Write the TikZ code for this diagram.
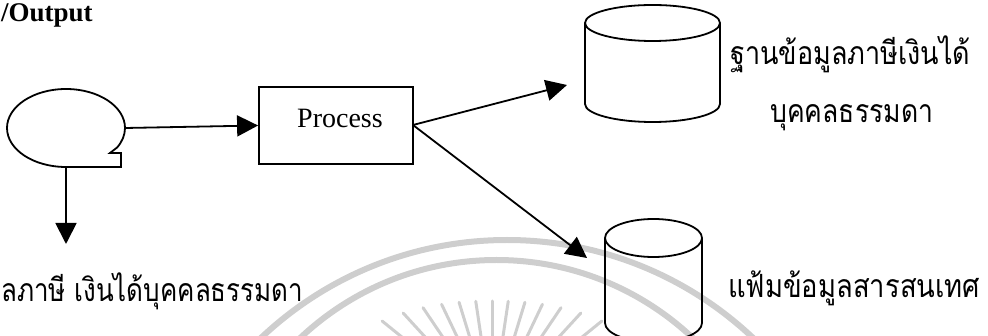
\documentclass[tikz,border=0pt]{standalone}
\usepackage{fontspec}
\setmainfont{Liberation Serif}
\newfontfamily\thai[Script=Thai]{Loma}
\usetikzlibrary{arrows.meta,calc}

\definecolor{seal}{RGB}{206,206,206}

% set a line of text to a given width, keeping its natural height
\newcommand\fitwidth[2]{\resizebox{#1}{\height}{#2}}

\tikzset{
  outline/.style={draw=black, line width=1.8pt, line join=miter},
  flow/.style={draw=black, line width=1.8pt, -{Triangle[length=21pt,width=21pt]}},
  procbox/.style={outline, rectangle, minimum width=154pt, minimum height=77pt, inner sep=0pt},
  slot/.style={draw=none, inner sep=0pt},
  thaitext/.style={font=\thai\fontsize{32}{38}\selectfont, inner sep=0pt},
  sealband/.style={draw=seal, line width=6pt},
  sealray/.style={draw=seal, line width=3pt, line cap=round},
}

\begin{document}
\begin{tikzpicture}[x=1pt, y=-1pt]
\useasboundingbox (0,0) rectangle (988,336);
\clip (0,0) rectangle (988,336);

% faint seal in the background: two rings and a sunburst
\draw[sealband] (507,598) circle[radius=358];
\draw[sealband] (496.5,546) circle[radius=286];
\foreach \k in {-6,...,6} {
  \pgfmathsetmacro{\ang}{90+8.5*\k}
  \pgfmathsetmacro{\rin}{109+0.9*\k*\k}
  \draw[sealray] ($(492,410)+({\rin*cos(\ang)},{-\rin*sin(\ang)})$)
               -- ($(492,410)+({40*cos(\ang)},{-40*sin(\ang)})$);
}

% heading
\node[anchor=base west, inner sep=0pt, font=\fontsize{27}{32}\selectfont\bfseries] (head) at (1,22) {/Output};

% tape symbol (sequential document)
\node[slot, minimum width=118pt, minimum height=78pt] (tape) at (66,128) {};
\draw[outline] (66,167) arc[start angle=90, end angle=390, x radius=59, y radius=39]
  -- (110,153) -- (121,153) -- (121,167) -- cycle;

% process box
\node[procbox] (proc) at (336,125.5) {};
\node[anchor=base, inner sep=0pt, font=\fontsize{28}{32}\selectfont] (proclabel) at (340,128) {Process};

% database cylinders
\node[slot, minimum width=135pt, minimum height=117pt] (db1) at (652.5,63.5) {};
\draw[outline] (585,23) -- (585,104) arc[start angle=180, end angle=0, x radius=67.5, y radius=18] -- (720,23);
\draw[outline] (652.5,23) ellipse[x radius=67.5, y radius=18];

\node[slot, minimum width=97pt, minimum height=123pt] (db2) at (653.5,280.5) {};
\draw[outline] (605,238) -- (605,323) arc[start angle=180, end angle=0, x radius=48.5, y radius=19] -- (702,238);
\draw[outline] (653.5,238) ellipse[x radius=48.5, y radius=19];

% labels
\node[thaitext, anchor=base west] (l1a) at (730,65) {\fitwidth{240pt}{ฐานข้อมูลภาษีเงินได้}};
\node[thaitext, anchor=base west] (l1b) at (770,123) {\fitwidth{163pt}{บุคคลธรรมดา}};
\node[thaitext, anchor=base west] (l2) at (728,298) {\fitwidth{252pt}{แฟ้มข้อมูลสารสนเทศ}};
\node[thaitext, anchor=base west] (l3) at (1,302) {\fitwidth{302pt}{ลภาษี เงินได้บุคคลธรรมดา}};

% connectors
\coordinate (outtip) at (66,244);
\coordinate (db1tip) at (567,85);
\coordinate (db2tip) at (587,258);
\coordinate (fork) at (413,125);
\draw[flow] (tape.east) -- (proc.west);
\draw[flow] (tape.south) -- (outtip);
\draw[flow] (fork) -- (db1tip);
\draw[flow] (fork) -- (db2tip);
\end{tikzpicture}
\end{document}
